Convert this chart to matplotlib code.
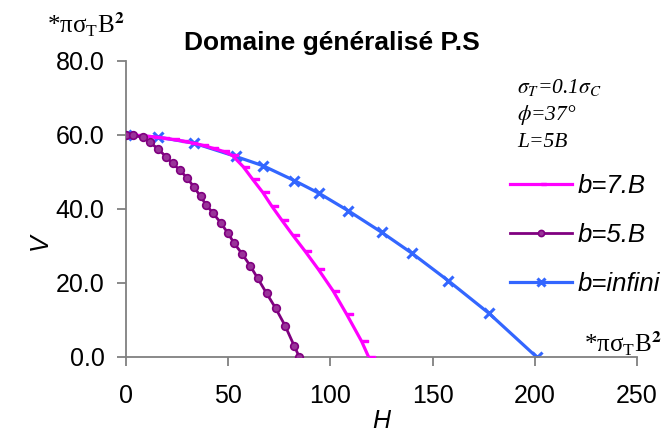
import matplotlib
matplotlib.use("Agg")
import matplotlib.pyplot as plt

plt.rcParams['mathtext.fontset'] = 'stix'

# values
h_7b = [0, 4.5, 9, 13.5, 18, 23, 27.5, 32, 37, 42, 47.5, 52,
        57.4, 62, 66.9, 71.3, 76.2, 81.5, 87.6, 94.1, 101.4, 108, 115.3, 118.7]
v_7b = [60, 59.9, 59.7, 59.5, 59.2, 58.8, 58.4, 57.9, 57.3, 56.5, 55.6, 54.5,
        51.4, 48.0, 44.5, 40.8, 37.0, 33.0, 28.6, 23.7, 17.8, 11.5, 4.2, 0]

h_5b = [0, 3.6, 8.2, 11.7, 15.8, 19.6, 22.8, 26.4, 30, 33.3, 36.5, 39.1,
        42.7, 46.3, 49.7, 53, 56.9, 60.7, 64.4, 68.8, 73.2, 77.8, 82.3, 84.8]
v_5b = [60, 59.9, 59.4, 58.0, 56.2, 54.1, 52.3, 50.5, 48.3, 45.9, 43.4, 41.2,
        38.8, 36.3, 33.6, 30.7, 27.8, 24.7, 21.3, 17.2, 13.2, 8.5, 3.0, 0]

h_inf = [0, 15.8, 33.3, 53.7, 67, 82.3, 94.6, 108.8, 125.1, 140, 157.7, 177.6, 200.9]
v_inf = [60, 59.4, 57.8, 54.2, 51.7, 47.7, 44.2, 39.5, 33.7, 28, 20.6, 11.8, 0]

labels = ['b=7.B', 'b=5.B', 'b=infini']
x_ticks = [0, 50, 100, 150, 200, 250]
y_ticks = [0, 20, 40, 60, 80]

W, H = 667, 432
fig = plt.figure(figsize=(W / 100, H / 100), dpi=100)
ax = fig.add_axes([126 / W, 1 - 357 / H, (637 - 126) / W, (357 - 61) / H])

# dash marker sticking out to the right of the point (Excel style)
dash = [(0, -0.18), (1, -0.18), (1, 0.18), (0, 0.18), (0, -0.18)]

ax.plot(h_7b, v_7b, color='#FF00FF', lw=2.3, marker=dash, ms=9,
        mec='#FF00FF', mfc='#FF00FF', label=labels[0], zorder=3)
ax.plot(h_5b, v_5b, color='#800080', lw=2.0, marker='o', ms=5.5,
        mec='#800080', mfc='#993399', mew=1.2, label=labels[1], zorder=4)
ax.plot(h_inf, v_inf, color='#3366FF', lw=2.3, marker='x', ms=7,
        mew=2.2, label=labels[2], zorder=2)

ax.set_xlim(0, 250)
ax.set_ylim(0, 80)
ax.set_xticks(x_ticks)
ax.set_yticks(y_ticks)
ax.set_xticklabels([str(t) for t in x_ticks])
ax.set_yticklabels(['%.1f' % t for t in y_ticks])
for s in ['top', 'right']:
    ax.spines[s].set_visible(False)
for s in ['left', 'bottom']:
    ax.spines[s].set_color('#808080')
    ax.spines[s].set_linewidth(1.3)
ax.tick_params(axis='both', colors='#808080', length=6.5, width=1.3,
               labelcolor='black', labelsize=18, direction='out')
ax.tick_params(axis='x', pad=13)
ax.tick_params(axis='y', pad=9)
for t in ax.get_xticklabels() + ax.get_yticklabels():
    t.set_family('Liberation Sans')

ax.set_xlabel('H', fontsize=18, style='italic', family='Liberation Sans', labelpad=1)
fig.text(40 / W, 1 - 242 / H, 'V', fontsize=18, style='italic',
         family='Liberation Sans', rotation=90, ha='center', va='center')

fig.text(184 / W, 1 - 43 / H, 'Domaine généralisé P.S', fontsize=19,
         fontweight='bold', family='Liberation Sans', ha='left', va='center')

unit = r'*πσ$_{\mathregular{T}}$B$^{\mathbf{2}}$'
fig.text(47 / W, 1 - 33 / H, unit, fontsize=18, family='Liberation Serif',
         ha='left', va='baseline')
fig.text(662 / W, 1 - 352 / H, unit, fontsize=18, family='Liberation Serif',
         ha='right', va='baseline')

params = [r'$\sigma_T$=0.1$\sigma_C$', r'$\phi$=37°', 'L=5B']
for i, p in enumerate(params):
    fig.text(517 / W, 1 - (93 + 27 * i) / H, p, fontsize=15.5, style='italic',
             family='Liberation Serif', ha='left', va='baseline')

leg = ax.legend(loc='upper left', bbox_to_anchor=(510 / W, 1 - 174 / H),
                bbox_transform=fig.transFigure, frameon=False,
                prop={'family': 'Liberation Sans', 'style': 'italic', 'size': 18.5},
                handlelength=2.4, handletextpad=0.25, labelspacing=0.98,
                borderpad=0, borderaxespad=0, markerscale=0.8)

fig.savefig('out.png', dpi=100)
